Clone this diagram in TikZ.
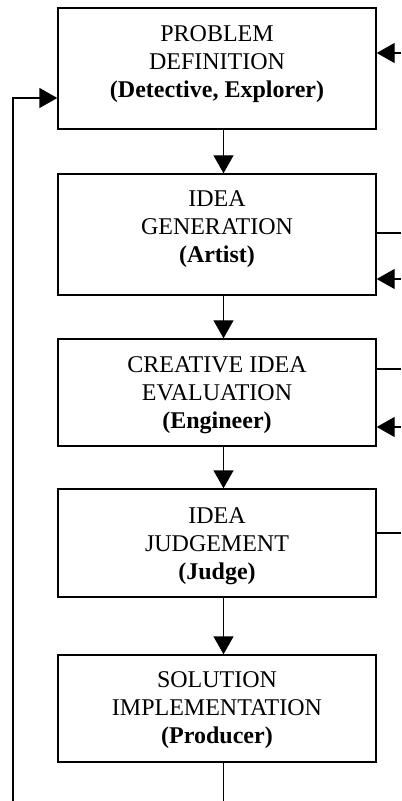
\documentclass[tikz,border=0pt]{standalone}
\usepackage{fontspec}
\setmainfont{Liberation Serif}
\usetikzlibrary{arrows.meta}
\begin{document}
\begin{tikzpicture}[x=0.5pt,y=-0.5pt,
  line width=0.7pt,
  stagebox/.style={draw, rectangle, minimum width=159pt, inner sep=0pt},
  stagetext/.style={align=center, inner sep=0pt, anchor=base,
    font=\fontsize{12}{14}\selectfont},
  flow/.style={-{Triangle[length=9pt,width=10pt]}},
  sh/.style={xshift=3.25pt},
]
\useasboundingbox (0,0) rectangle (401,801);
% boxes
\node[stagebox, minimum height=60.5pt] (b1) at (217,68.5) {};
\node[stagebox, minimum height=60.5pt] (b2) at (217,234.5) {};
\node[stagebox, minimum height=53.5pt] (b3) at (217,392.5) {};
\node[stagebox, minimum height=54pt] (b4) at (217,543) {};
\node[stagebox, minimum height=53.5pt] (b5) at (217,708.5) {};
% texts (anchor base = last line)
\node[stagetext] (t1) at (217,98) {PROBLEM\\DEFINITION\\\textbf{(Detective, Explorer)}};
\node[stagetext] (t2) at (217,263) {IDEA\\GENERATION\\\textbf{(Artist)}};
\node[stagetext] (t3) at (217,428) {CREATIVE IDEA\\EVALUATION\\\textbf{(Engineer)}};
\node[stagetext] (t4) at (217,579) {IDEA\\JUDGEMENT\\\textbf{(Judge)}};
\node[stagetext] (t5) at (217,743) {SOLUTION\\IMPLEMENTATION\\\textbf{(Producer)}};
% vertical flow
\draw[flow] ([sh]b1.south) -- ([sh]b2.north);
\draw[flow] ([sh]b2.south) -- ([sh]b3.north);
\draw[flow] ([sh]b3.south) -- ([sh]b4.north);
\draw[flow] ([sh]b4.south) -- ([sh]b5.north);
\coordinate (bend) at (223.5,801);
\draw ([sh]b5.south) -- (bend);
% left loop
\coordinate (lbot) at (13,801);
\coordinate (ltop) at (13,98);
\draw[flow] (lbot) -- (ltop) -- (b1.west |- ltop);
% right side
\coordinate (r1) at (401,53);
\draw[flow] (r1) -- (b1.east |- r1);
\coordinate (r2o) at (401,233);
\draw (b2.east |- r2o) -- (r2o);
\coordinate (r2i) at (401,279);
\draw[flow] (r2i) -- (b2.east |- r2i);
\coordinate (r3o) at (401,369);
\draw (b3.east |- r3o) -- (r3o);
\coordinate (r3i) at (401,427);
\draw[flow] (r3i) -- (b3.east |- r3i);
\coordinate (r4o) at (401,533);
\draw (b4.east |- r4o) -- (r4o);
\end{tikzpicture}
\end{document}
